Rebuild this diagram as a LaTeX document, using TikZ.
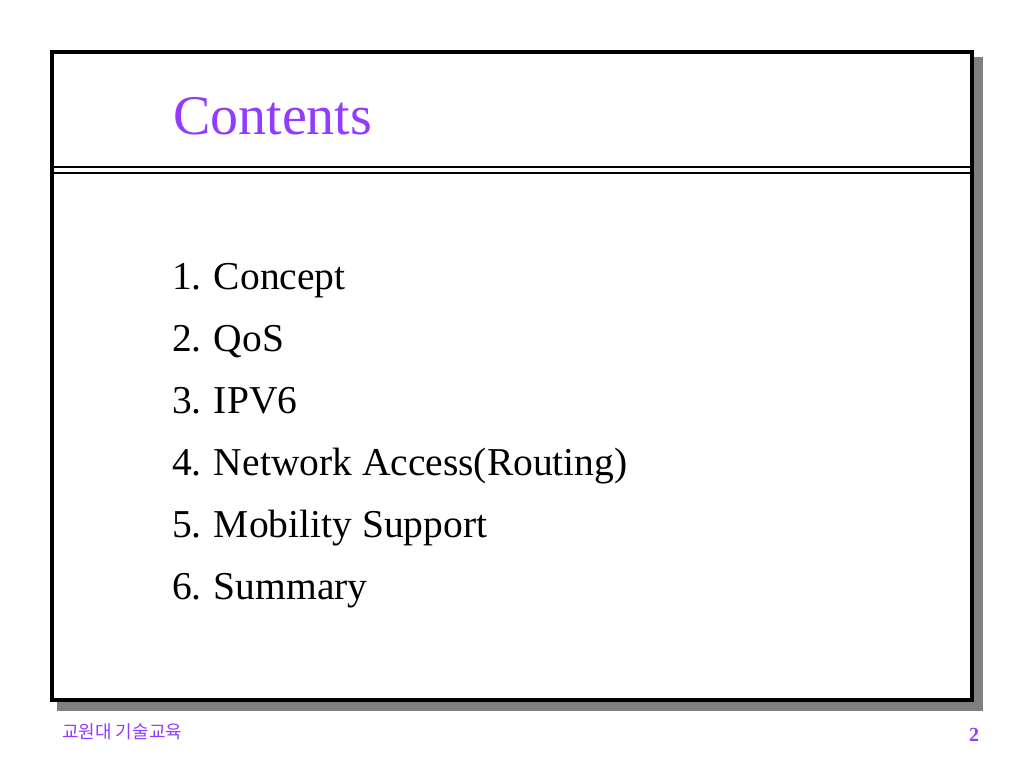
\documentclass[tikz,border=0pt]{standalone}
\usepackage{fontspec}
\setmainfont{Liberation Serif}
\newfontfamily\cjk{Noto Sans CJK KR}
\usepackage{tikz}
\usetikzlibrary{positioning}
\definecolor{titlecol}{RGB}{145, 60, 255}
\definecolor{shadowcol}{RGB}{128, 128, 128}
\tikzstyle{slide} = [rectangle, draw=black, line width=4pt, fill=white, minimum width=920pt, minimum height=648pt, inner sep=0pt, outer sep=0pt, anchor=north west]
\tikzstyle{shade} = [rectangle, fill=shadowcol, minimum width=926pt, minimum height=654pt, inner sep=0pt, outer sep=0pt, anchor=north west]
\tikzstyle{rule} = [line width=2pt, black]
\tikzstyle{item} = [anchor=base west, inner sep=0pt, font=\fontsize{39.5}{45}\selectfont]

\begin{document}
\begin{tikzpicture}[x=1pt, y=-1pt]
    \useasboundingbox (0,0) rectangle (1024,768);

    % Slide frame with shadow
    \node[shade] (shadow) at (57,57) {};
    \node[slide] (frame) at (52,52) {};

    % Title bar rules
    \draw[rule] (52,167) -- (972,167);
    \draw[rule] (52,172.5) -- (972,172.5);

    % Title
    \node[anchor=base west, inner sep=0pt, text=titlecol, font=\fontsize{56}{62}\selectfont] (title) at (173,134) {Contents};

    % Items
    \node[item] (i1) at (172,289) {1.\kern-1pt{} Concept};
    \node[item] (i2) at (172,351) {2.\kern-1pt{} QoS};
    \node[item] (i3) at (172,413) {3.\kern-1pt{} IPV6};
    \node[item] (i4) at (172,475) {4.\kern-1pt{} Network Access(Routing)};
    \node[item] (i5) at (172,537) {5.\kern-1pt{} Mobility Support};
    \node[item] (i6) at (172,599) {6.\kern-1pt{} Summary};

    % Footer
    \node[anchor=west, inner sep=0pt, text=titlecol, font=\cjk\fontsize{18}{21}\selectfont] (school) at (62,732) {교원대 기술교육};
    \node[anchor=base west, inner sep=0pt, text=titlecol, font=\fontsize{20}{24}\selectfont\bfseries] (page) at (969,741) {2};

\end{tikzpicture}
\end{document}
